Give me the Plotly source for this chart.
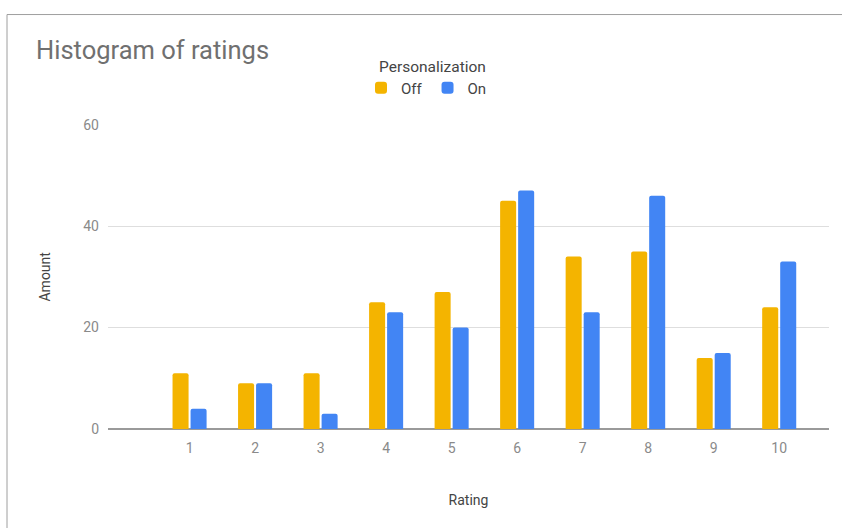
import plotly.graph_objects as go

# Histogram counts per rating, split by personalization setting
ratings = [1, 2, 3, 4, 5, 6, 7, 8, 9, 10]
off_counts = [11, 9, 11, 25, 27, 45, 34, 35, 14, 24]
on_counts = [4, 9, 3, 23, 20, 47, 23, 46, 15, 33]
y_ticks = [0, 20, 40, 60]

W, H = 842, 528
L, R, T, B = 108, 13, 122, 99
plot_w = W - L - R
plot_h = H - T - B

FONT = "Roboto, Arial, sans-serif"

fig = go.Figure()
fig.add_trace(go.Bar(x=ratings, y=off_counts, name="Off",
                     marker=dict(color="#f4b400", cornerradius=2, line=dict(width=0))))
fig.add_trace(go.Bar(x=ratings, y=on_counts, name="On",
                     marker=dict(color="#4285f4", cornerradius=2, line=dict(width=0))))

def px_to_paper_x(px):
    return (px - L) / plot_w

def px_to_paper_y(py):
    return (H - B - py) / plot_h

# frame around the chart card (top and left edges visible)
frame_x = px_to_paper_x(7)
frame_y = px_to_paper_y(11)
shapes = [
    dict(type="line", xref="paper", yref="paper", x0=frame_x, x1=1.2,
         y0=frame_y, y1=frame_y, line=dict(color="#9e9e9e", width=1)),
    dict(type="line", xref="paper", yref="paper", x0=frame_x, x1=frame_x,
         y0=frame_y, y1=-0.5, line=dict(color="#9e9e9e", width=1)),
]

fig.update_layout(
    width=W, height=H,
    margin=dict(l=L, r=R, t=T, b=B, pad=0),
    paper_bgcolor="white", plot_bgcolor="white",
    font=dict(family=FONT, color="#757575", size=14),
    title=dict(text="Histogram of ratings", x=36 / W, xanchor="left",
               xref="container", y=1 - 50 / H, yanchor="middle", yref="container",
               font=dict(size=25.5, color="#707070", family=FONT)),
    barmode="group", bargap=0.45, bargroupgap=0.11,
    xaxis=dict(range=[-0.245, 10.76], tickmode="array", tickvals=ratings,
               ticktext=[str(r) for r in ratings], showgrid=False, zeroline=False,
               showline=False, ticks="", ticklabelstandoff=9,
               tickfont=dict(size=14, color="#8a8a8a"),
               title=dict(text="Rating", font=dict(size=14, color="#444"), standoff=40)),
    yaxis=dict(range=[0, 60], tickmode="array", tickvals=y_ticks,
               showgrid=True, gridcolor="#dedede", gridwidth=1,
               zeroline=True, zerolinecolor="#9a9a9a", zerolinewidth=2,
               showline=False, ticks="", ticklabelstandoff=8,
               tickfont=dict(size=14, color="#8a8a8a"),
               title=dict(text="Amount", font=dict(size=14, color="#444"), standoff=29)),
    legend=dict(orientation="h", xref="container", yref="container",
                x=361 / W, xanchor="left", y=1 - 88 / H, yanchor="middle",
                font=dict(size=15, color="#444"), bgcolor="rgba(0,0,0,0)",
                itemclick=False, traceorder="normal"),
    annotations=[dict(text="Personalization", xref="paper", yref="paper",
                      x=px_to_paper_x(432), y=px_to_paper_y(64),
                      xanchor="center", yanchor="middle", showarrow=False,
                      font=dict(size=15.5, color="#444", family=FONT))],
    shapes=shapes,
)

fig.write_html("out.html")
